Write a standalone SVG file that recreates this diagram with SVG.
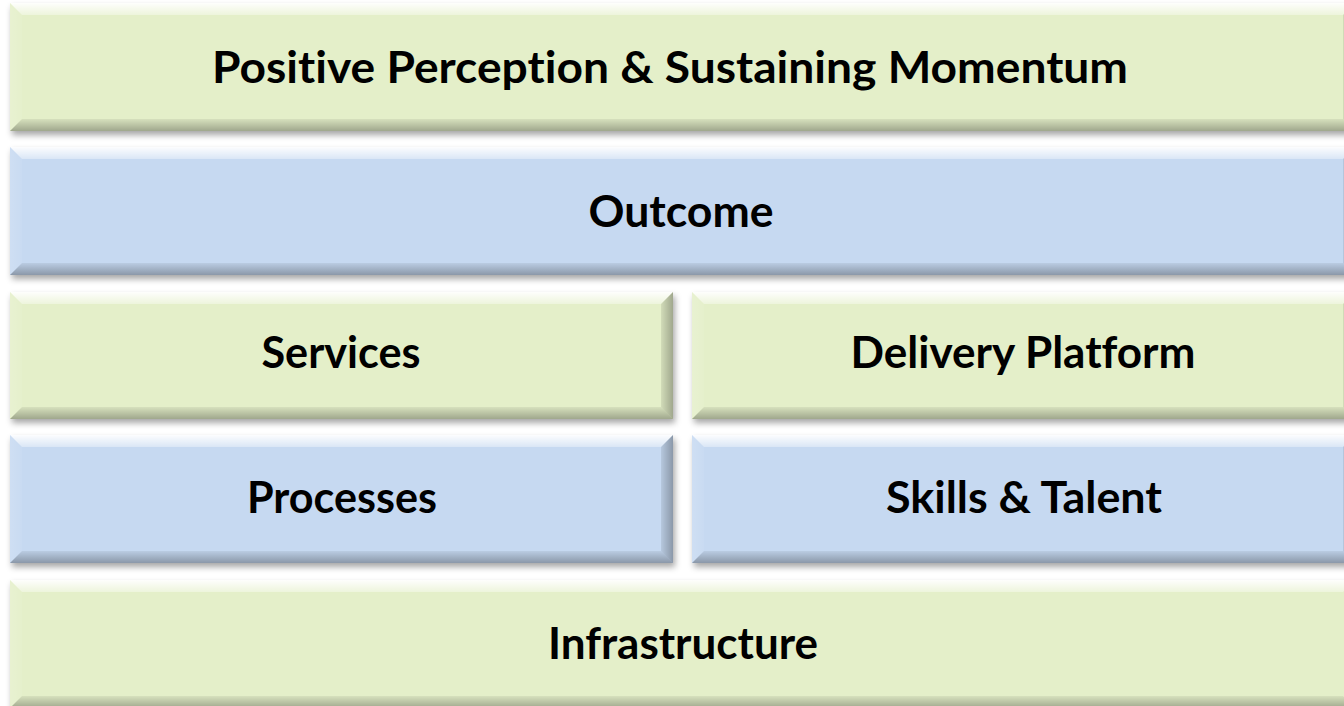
<svg xmlns="http://www.w3.org/2000/svg" width="1344" height="706" viewBox="0 0 1344 706">
<defs>
<filter id="sh" x="-5%" y="-10%" width="110%" height="130%"><feDropShadow dx="2" dy="4" stdDeviation="3" flood-color="#000" flood-opacity="0.35"/></filter>
<linearGradient id="gT" x1="0" y1="0" x2="0" y2="1"><stop offset="0" stop-color="#fff" stop-opacity="0.95"/><stop offset="1" stop-color="#fff" stop-opacity="0.35"/></linearGradient>
<linearGradient id="gL" x1="0" y1="0" x2="1" y2="0"><stop offset="0" stop-color="#fff" stop-opacity="0.15"/><stop offset="1" stop-color="#fff" stop-opacity="0.05"/></linearGradient>
<linearGradient id="gB" x1="0" y1="0" x2="0" y2="1"><stop offset="0" stop-color="#000" stop-opacity="0.06"/><stop offset="1" stop-color="#000" stop-opacity="0.3"/></linearGradient>
<linearGradient id="gR" x1="0" y1="0" x2="1" y2="0"><stop offset="0" stop-color="#000" stop-opacity="0.08"/><stop offset="1" stop-color="#000" stop-opacity="0.3"/></linearGradient>
</defs>
<style>
.g{fill:#E4EFC9}.b{fill:#C6D9F1}
.t{fill:url(#gT)}.l{fill:url(#gL)}.bt{fill:url(#gB)}.r{fill:url(#gR)}
text{font-family:Lato,"Liberation Sans",sans-serif;font-weight:bold;font-size:44px;fill:#000;text-anchor:middle;font-variant-ligatures:none}
</style>
<rect width="1344" height="706" fill="#fff"/>
<g id="perception">
<rect class="g" x="10" y="3" width="1345" height="128" filter="url(#sh)"/>
<polygon class="t" points="10,3 1355,3 1343,15 22,15"/>
<polygon class="l" points="10,3 22,15 22,119 10,131"/>
<polygon class="bt" points="10,131 22,119 1343,119 1355,131"/>
<polygon class="r" points="1355,3 1355,131 1343,119 1343,15"/>
<text x="670" y="83" textLength="916" lengthAdjust="spacingAndGlyphs">Positive Perception &amp; Sustaining Momentum</text>
</g>
<g id="outcome">
<rect class="b" x="10" y="147" width="1345" height="128" filter="url(#sh)"/>
<polygon class="t" points="10,147 1355,147 1343,159 22,159"/>
<polygon class="l" points="10,147 22,159 22,263 10,275"/>
<polygon class="bt" points="10,275 22,263 1343,263 1355,275"/>
<polygon class="r" points="1355,147 1355,275 1343,263 1343,159"/>
<text x="681" y="227" textLength="185" lengthAdjust="spacingAndGlyphs">Outcome</text>
</g>
<g id="services">
<rect class="g" x="10" y="292" width="663" height="127" filter="url(#sh)"/>
<polygon class="t" points="10,292 673,292 661,304 22,304"/>
<polygon class="l" points="10,292 22,304 22,407 10,419"/>
<polygon class="bt" points="10,419 22,407 661,407 673,419"/>
<polygon class="r" points="673,292 673,419 661,407 661,304"/>
<text x="341" y="368" textLength="159" lengthAdjust="spacingAndGlyphs">Services</text>
</g>
<g id="delivery">
<rect class="g" x="692" y="292" width="663" height="127" filter="url(#sh)"/>
<polygon class="t" points="692,292 1355,292 1343,304 704,304"/>
<polygon class="l" points="692,292 704,304 704,407 692,419"/>
<polygon class="bt" points="692,419 704,407 1343,407 1355,419"/>
<polygon class="r" points="1355,292 1355,419 1343,407 1343,304"/>
<text x="1023" y="368" textLength="345" lengthAdjust="spacingAndGlyphs">Delivery Platform</text>
</g>
<g id="processes">
<rect class="b" x="10" y="435" width="663" height="128" filter="url(#sh)"/>
<polygon class="t" points="10,435 673,435 661,447 22,447"/>
<polygon class="l" points="10,435 22,447 22,551 10,563"/>
<polygon class="bt" points="10,563 22,551 661,551 673,563"/>
<polygon class="r" points="673,435 673,563 661,551 661,447"/>
<text x="342" y="513" textLength="190" lengthAdjust="spacingAndGlyphs">Processes</text>
</g>
<g id="skills">
<rect class="b" x="692" y="435" width="663" height="128" filter="url(#sh)"/>
<polygon class="t" points="692,435 1355,435 1343,447 704,447"/>
<polygon class="l" points="692,435 704,447 704,551 692,563"/>
<polygon class="bt" points="692,563 704,551 1343,551 1355,563"/>
<polygon class="r" points="1355,435 1355,563 1343,551 1343,447"/>
<text x="1024" y="513" textLength="276" lengthAdjust="spacingAndGlyphs">Skills &amp; Talent</text>
</g>
<g id="infrastructure">
<rect class="g" x="10" y="580" width="1345" height="128" filter="url(#sh)"/>
<polygon class="t" points="10,580 1355,580 1343,592 22,592"/>
<polygon class="l" points="10,580 22,592 22,696 10,708"/>
<polygon class="bt" points="10,708 22,696 1343,696 1355,708"/>
<text x="683" y="659" textLength="270" lengthAdjust="spacingAndGlyphs">Infrastructure</text>
</g>
<g id="connectors"></g>
</svg>
